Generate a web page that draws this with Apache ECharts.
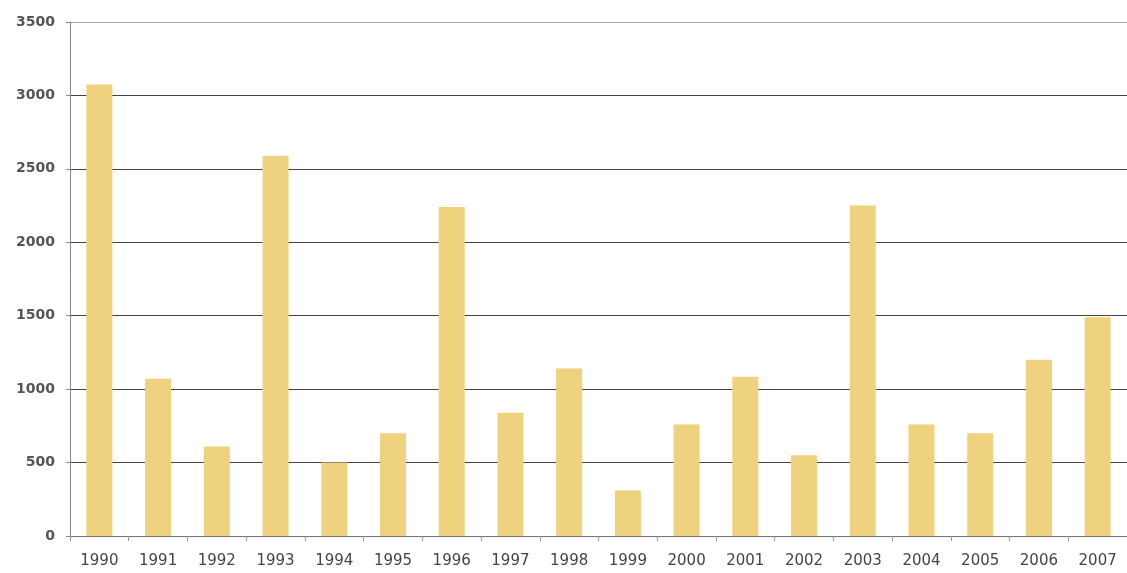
<!DOCTYPE html>
<html>
<head>
<meta charset="utf-8">
<title>1990–2007</title>
<script src="https://cdn.jsdelivr.net/npm/echarts@6/dist/echarts.min.js"></script>
<style>
  html, body { margin: 0; padding: 0; background: #ffffff; }
  #chart { width: 1127px; height: 573px; }
</style>
</head>
<body>
<div id="chart"></div>
<script>
// Yearly totals, 1990–2007
const years = ['1990', '1991', '1992', '1993', '1994', '1995', '1996', '1997', '1998',
               '1999', '2000', '2001', '2002', '2003', '2004', '2005', '2006', '2007'];
const totals = [3075, 1070, 610, 2590, 500, 700, 2240, 840, 1140,
                310, 760, 1085, 550, 2250, 760, 700, 1200, 1490];
const yTicks = [0, 500, 1000, 1500, 2000, 2500, 3000, 3500];

const chart = echarts.init(document.getElementById('chart'), null, { renderer: 'canvas' });

chart.setOption({
  backgroundColor: '#ffffff',
  animation: false,
  grid: { left: 70, right: -4, top: 22, bottom: 37, containLabel: false },
  xAxis: {
    type: 'category',
    data: years,
    boundaryGap: true,
    axisLine: { show: true, lineStyle: { color: '#777777', width: 1 } },
    axisTick: { show: true, alignWithLabel: false, length: 5, lineStyle: { color: '#999999' } },
    axisLabel: {
      color: '#444444',
      fontFamily: 'DejaVu Sans',
      fontSize: 15,
      margin: 18
    },
    splitLine: { show: false }
  },
  yAxis: {
    type: 'value',
    min: yTicks[0],
    max: yTicks[yTicks.length - 1],
    interval: 500,
    axisLine: { show: true, lineStyle: { color: '#888888', width: 1 } },
    axisTick: { show: true, length: 4, lineStyle: { color: '#888888' } },
    axisLabel: {
      color: '#555555',
      fontFamily: 'DejaVu Sans',
      fontWeight: 'bold',
      fontSize: 14,
      margin: 15,
      formatter: (v) => String(v)
    },
    splitLine: {
      show: true,
      lineStyle: { color: ['#777777', '#444444', '#444444', '#444444', '#444444', '#444444', '#444444', '#aaaaaa'], width: 1.2 }
    }
  },
  series: [{
    type: 'bar',
    data: totals,
    barWidth: 26,
    itemStyle: { color: '#EED27E' }
  }]
});
</script>
</body>
</html>
